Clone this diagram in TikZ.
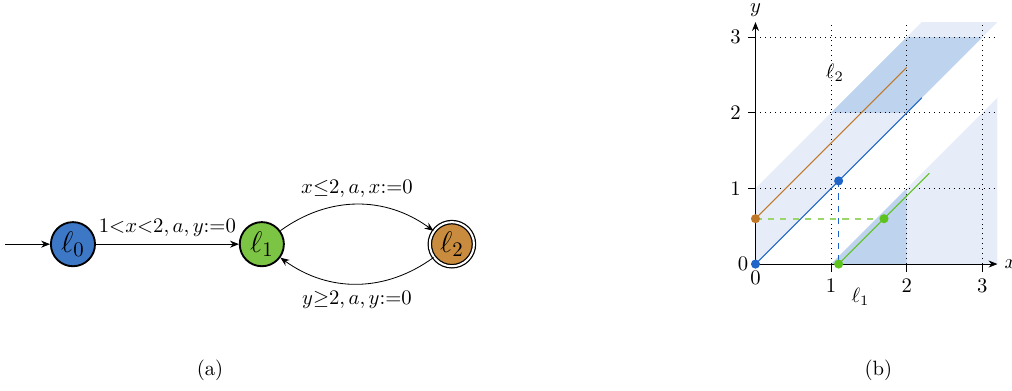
\documentclass[tikz,border=0pt]{standalone}
\usepackage{amsmath,amssymb}
\usepackage{tikz}
\usetikzlibrary{arrows.meta}
\definecolor{locblue}{HTML}{3D78C6}
\definecolor{locgreen}{HTML}{7CC444}
\definecolor{locorange}{HTML}{C98C3E}
\definecolor{zonelight}{HTML}{E6EDF8}
\definecolor{zonedark}{HTML}{BDD3EE}
\definecolor{runblue}{HTML}{1F64C8}
\definecolor{runorange}{HTML}{C07828}
\definecolor{rungreen}{HTML}{5EC21E}
\definecolor{rungreenlight}{HTML}{9AD66A}

\begin{document}
\begin{tikzpicture}[>={Stealth[length=1.5mm,width=1.2mm]},
  loc/.style={circle,draw,line width=0.9pt,minimum size=7.5mm,inner sep=0pt,font=\Large},
  final/.style={double,line width=0.6pt,double distance=1pt},
  dot/.style={circle,fill,inner sep=0pt,minimum size=4.4pt}]
\useasboundingbox (0,0) rectangle (17.2,6.63);
% automaton
\begin{scope}
\node[loc,fill=locblue] (l0) at (1.24,2.48) {$\ell_0$};
\node[loc,fill=locgreen] (l1) at (4.45,2.48) {$\ell_1$};
\node[loc,final,fill=locorange] (l2) at (7.68,2.48) {$\ell_2$};
\coordinate (start) at (0.085,2.48);
\draw[->] (start) -- (l0);
\draw[->] (l0) -- node[above] {$1{<}x{<}2,a,y{:=}0$} (l1);
\draw[->] (l1) to[bend left=36] node[above] {$x{\leq}2,a,x{:=}0$} (l2);
\draw[->] (l2) to[bend left=36] node[below] {$y{\geq}2,a,y{:=}0$} (l1);
\end{scope}
\node (capa) at (3.57,0.34) {(a)};
% zones
\begin{scope}[shift={(12.84,2.142)},x=1.285cm,y=1.285cm]
\fill[zonelight] (0,0) -- (0,1) -- (2.2,3.2) -- (3.2,3.2) -- cycle;
\fill[zonelight] (1,0) -- (3.2,0) -- (3.2,2.2) -- cycle;
\fill[zonedark] (1,2) -- (2,2) -- (3,3) -- (2,3) -- cycle;
\fill[zonedark] (1,0) -- (2,0) -- (2,1) -- cycle;
\foreach \i in {1,2,3} {
  \draw[dotted] (\i,0) -- (\i,3.2);
  \draw[dotted] (0,\i) -- (3.2,\i);
  \draw (\i,0) -- (\i,-0.1) node[anchor=north] {$\i$};
  \draw (0,\i) -- (-0.1,\i) node[anchor=east] {$\i$};
}
\draw[rungreenlight,dashed,line width=0.8pt] (0,0.6) -- (1.7,0.6);
\draw[runblue,dashed,line width=0.6pt] (1.1,1.1) -- (1.1,0);
\draw[runorange,line width=0.5pt] (0,0.6) -- (2,2.6);
\draw[runblue,line width=0.5pt] (0,0) -- (2.2,2.2);
\draw[rungreen,line width=0.5pt] (1.1,0) -- (2.3,1.2);
\draw[->] (0,0) -- (3.2,0) node[anchor=west] {$x$};
\draw[->] (0,0) -- (0,3.2);
\node[inner sep=1pt] (ylab) at (0,3.36) {$y$};
\node[anchor=north] (x0) at (0,0) {$0$};
\node[anchor=east] (y0) at (0,0) {$0$};
\node[dot,runblue] (p0) at (0,0) {};
\node[dot,runblue] (p1) at (1.1,1.1) {};
\node[dot,runorange] (p2) at (0,0.6) {};
\node[dot,rungreen] (p3) at (1.1,0) {};
\node[dot,rungreen] (p4) at (1.7,0.6) {};
\node (z2) at (1.05,2.53) {$\ell_2$};
\node (z1) at (1.39,-0.43) {$\ell_1$};
\end{scope}
\node (capb) at (14.93,0.34) {(b)};
\end{tikzpicture}
\end{document}
